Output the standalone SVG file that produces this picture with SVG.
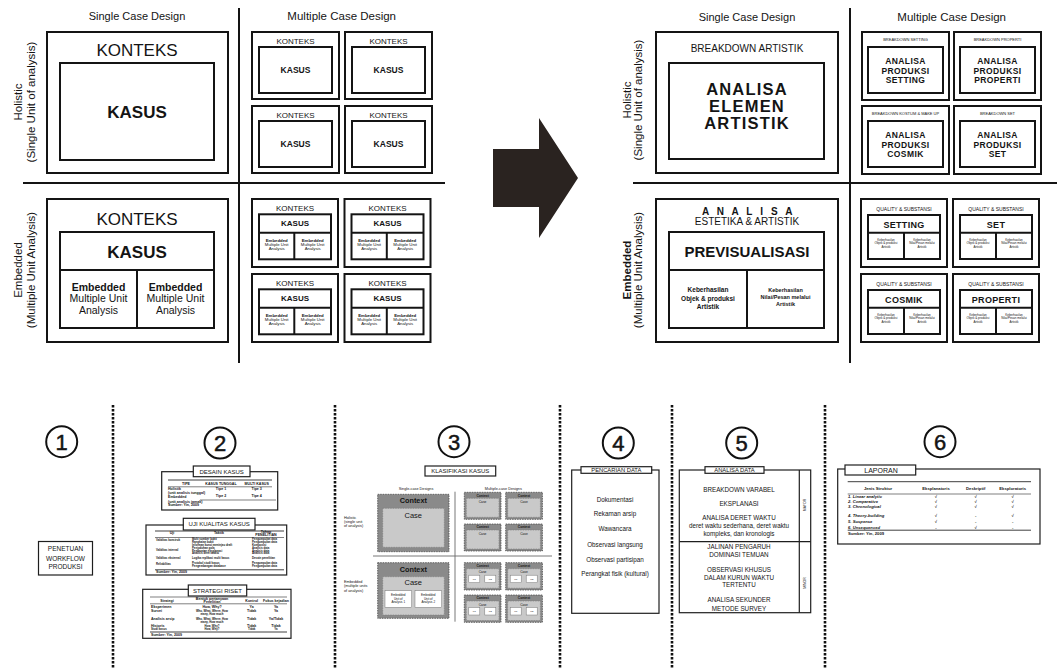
<svg xmlns="http://www.w3.org/2000/svg" width="1057" height="668" viewBox="0 0 1057 668">
<style>
text{font-family:"Liberation Sans",Arial,Helvetica,sans-serif;fill:#141414;text-anchor:middle}
.st{text-anchor:start}
.b{font-weight:bold}
.frame{fill:#fff;stroke:#141414;stroke-width:2}
.line{fill:none;stroke:#141414;stroke-width:2}
.thin{fill:#fff;stroke:#1e1e1e;stroke-width:1.2}
.rule{fill:none;stroke:#2a2a2a;stroke-width:0.6}
.rule2{fill:none;stroke:#2a2a2a;stroke-width:0.9}
.dots{fill:none;stroke:#111;stroke-width:2.6;stroke-dasharray:2.4 1.6}
.num{fill:#fff;stroke:#111;stroke-width:2}
.digit{font-size:22px;stroke:#141414;stroke-width:0.5}
.ctx{fill:#8a8a8a;stroke:#4a4a4a;stroke-width:0.8;stroke-dasharray:1.5 1}
.case{fill:#c9c9c9;stroke:#7a7a7a;stroke-width:0.6;stroke-dasharray:1.5 1}
.unit{fill:#fff;stroke:#777;stroke-width:0.5}
.grid{stroke:#6a6a6a;stroke-width:0.9}
.tiny{font-size:3.6px;font-weight:bold}
.micro{font-size:2.8px;font-weight:bold}
.tab{font-size:6px}
.tb{font-size:4.2px;font-weight:bold}
.p{font-size:6.3px}
</style>
<defs>
  <!-- holistic case inside a context, small version -->
  <g id="holMulti">
    <rect class="frame" x="0" y="0" width="87" height="67"/>
    <rect class="frame" x="7" y="15" width="73" height="46"/>
    <text x="43.5" y="12" font-size="8">KONTEKS</text>
    <text x="43.5" y="41" font-size="8.5" class="b">KASUS</text>
  </g>
  <!-- embedded case inside a context, small version -->
  <g id="embMulti">
    <rect class="frame" x="0" y="0" width="86" height="68"/>
    <rect class="frame" x="7" y="15.3" width="72" height="45"/>
    <line class="line" x1="7" y1="33.7" x2="79" y2="33.7"/>
    <line class="line" x1="42.3" y1="33.7" x2="42.3" y2="60.3"/>
    <text x="43" y="12.2" font-size="8">KONTEKS</text>
    <text x="43" y="27.3" font-size="8" class="b">KASUS</text>
    <text x="24.7" y="42.5" font-size="4.3" class="b">Embedded</text>
    <text x="24.7" y="46.8" font-size="4.3">Multiple Unit</text>
    <text x="24.7" y="51" font-size="4.3">Analysis</text>
    <text x="60.7" y="42.5" font-size="4.3" class="b">Embedded</text>
    <text x="60.7" y="46.8" font-size="4.3">Multiple Unit</text>
    <text x="60.7" y="51" font-size="4.3">Analysis</text>
  </g>
  <g id="rmFrame">
    <rect class="frame" x="0" y="0" width="87" height="68"/>
    <rect class="frame" x="6" y="15" width="75" height="46"/>
  </g>
  <g id="rmEmbFrame">
    <rect class="frame" x="0" y="0" width="86" height="68"/>
    <rect class="frame" x="7" y="16" width="72" height="44"/>
    <line class="line" x1="7" y1="33.7" x2="79" y2="33.7"/>
    <line class="line" x1="43" y1="33.7" x2="43" y2="60"/>
    <text x="25" y="41.5" font-size="3">Keberhasilan</text>
    <text x="25" y="45" font-size="3">Objek &amp; produksi</text>
    <text x="25" y="48.5" font-size="3">Artistik</text>
    <text x="61" y="41.5" font-size="3">Keberhasilan</text>
    <text x="61" y="45" font-size="3">Nilai/Pesan melalui</text>
    <text x="61" y="48.5" font-size="3">Artistik</text>
  </g>
  <g id="p3hol">
    <rect class="ctx" x="0" y="0" width="36.7" height="27"/>
    <text x="18.3" y="4.4" font-size="3.3" class="b">Context</text>
    <rect class="case" x="2" y="6" width="32.7" height="19"/>
    <text x="18.3" y="11.2" font-size="3.3">Case</text>
  </g>
  <g id="p3emb">
    <rect class="ctx" x="0" y="0" width="36.7" height="27.3"/>
    <text x="18.3" y="4.4" font-size="3.3" class="b">Context</text>
    <rect class="case" x="2" y="6" width="32.7" height="19.5"/>
    <text x="18.3" y="10.6" font-size="3.3">Case</text>
    <rect class="unit" x="4.5" y="12.5" width="11" height="7.5"/>
    <rect class="unit" x="20.5" y="12.5" width="11" height="7.5"/>
    <text x="10" y="17" font-size="2.4">U1</text>
    <text x="26" y="17" font-size="2.4">U2</text>
  </g>
</defs>

<rect width="1057" height="668" fill="#fff"/>

<!-- ===== left matrix: generic case-study designs ===== -->
<g id="left-axes">
  <line class="line" x1="239" y1="8" x2="239" y2="363"/>
  <line class="line" x1="23" y1="183" x2="445" y2="183"/>
  <text x="137" y="20" font-size="11">Single Case Design</text>
  <text x="341.7" y="20" font-size="11.5">Multiple Case Design</text>
  <text transform="translate(22,102) rotate(-90)" font-size="11.5">Holistic</text>
  <text transform="translate(35,102) rotate(-90)" font-size="11.5">(Single Unit of analysis)</text>
  <text transform="translate(22,270) rotate(-90)" font-size="11.5">Embedded</text>
  <text transform="translate(34.5,270) rotate(-90)" font-size="11.5">(Multiple Unit Analysis)</text>
</g>

<g id="single-holistic">
  <rect class="frame" x="47" y="32" width="181" height="141"/>
  <rect class="frame" x="60" y="63" width="154" height="97"/>
  <text x="137" y="56" font-size="17">KONTEKS</text>
  <text x="137" y="118" font-size="17" class="b">KASUS</text>
</g>

<g id="single-embedded">
  <rect class="frame" x="47" y="199" width="181" height="143"/>
  <rect class="frame" x="60" y="232" width="154" height="96"/>
  <line class="line" x1="60" y1="270" x2="214" y2="270"/>
  <line class="line" x1="137" y1="270" x2="137" y2="328"/>
  <text x="137" y="225" font-size="17">KONTEKS</text>
  <text x="137" y="258" font-size="17" class="b">KASUS</text>
  <text x="98.5" y="291" font-size="10.5" class="b">Embedded</text>
  <text x="98.5" y="302" font-size="10.5">Multiple Unit</text>
  <text x="98.5" y="313.5" font-size="10.5">Analysis</text>
  <text x="175.5" y="291" font-size="10.5" class="b">Embedded</text>
  <text x="175.5" y="302" font-size="10.5">Multiple Unit</text>
  <text x="175.5" y="313.5" font-size="10.5">Analysis</text>
</g>

<g id="multi-holistic-1"><use href="#holMulti" x="252" y="32"/></g>
<g id="multi-holistic-2"><use href="#holMulti" x="345" y="32"/></g>
<g id="multi-holistic-3"><use href="#holMulti" x="252" y="106"/></g>
<g id="multi-holistic-4"><use href="#holMulti" x="345" y="106"/></g>

<g id="multi-embedded-1"><use href="#embMulti" x="252" y="199"/></g>
<g id="multi-embedded-2"><use href="#embMulti" x="344.5" y="199"/></g>
<g id="multi-embedded-3"><use href="#embMulti" x="252" y="274"/></g>
<g id="multi-embedded-4"><use href="#embMulti" x="344.5" y="274"/></g>

<!-- big transition arrow -->
<g id="connectors">
  <path d="M493,149 L539,149 L539,118 L578,178 L539,238 L539,207 L493,207 Z" fill="#2a2320"/>
</g>

<!-- ===== right matrix: artistic analysis ===== -->
<g id="right-axes">
  <line class="line" x1="850" y1="8" x2="850" y2="363"/>
  <line class="line" x1="633" y1="183" x2="1057" y2="183"/>
  <text x="747" y="20.5" font-size="11">Single Case Design</text>
  <text x="951.7" y="20.5" font-size="11.5">Multiple Case Design</text>
  <text transform="translate(631,100) rotate(-90)" font-size="11.5">Holistic</text>
  <text transform="translate(642,100) rotate(-90)" font-size="11.5">(Single Unit of analysis)</text>
  <text transform="translate(630.5,270) rotate(-90)" font-size="11.5" class="b">Embedded</text>
  <text transform="translate(641.5,270) rotate(-90)" font-size="11.5">(Multiple Unit Analysis)</text>
</g>

<g id="artistic-holistic">
  <rect class="frame" x="656" y="32" width="182" height="141"/>
  <rect class="frame" x="669" y="63" width="155" height="96"/>
  <text x="747" y="52" font-size="10">BREAKDOWN ARTISTIK</text>
  <text x="747" y="95" font-size="16.5" class="b" letter-spacing="1.2">ANALISA</text>
  <text x="747" y="112" font-size="16.5" class="b" letter-spacing="1.2">ELEMEN</text>
  <text x="747" y="129" font-size="16.5" class="b" letter-spacing="1.2">ARTISTIK</text>
</g>

<g id="artistic-embedded">
  <rect class="frame" x="656" y="199" width="182" height="143"/>
  <rect class="frame" x="669" y="232" width="155" height="96"/>
  <line class="line" x1="669" y1="270" x2="824" y2="270"/>
  <line class="line" x1="747" y1="270" x2="747" y2="328"/>
  <text x="748.5" y="215.2" font-size="10" class="b" letter-spacing="2.6">A N A L I S A</text>
  <text x="747" y="225.2" font-size="10">ESTETIKA &amp; ARTISTIK</text>
  <text x="747" y="257" font-size="15" class="b">PREVISUALISASI</text>
  <text x="708" y="291.5" font-size="6.5" class="b">Keberhasilan</text>
  <text x="708" y="300.5" font-size="6.5" class="b">Objek &amp; produksi</text>
  <text x="708" y="308.5" font-size="6.5" class="b">Artistik</text>
  <text x="785.5" y="292" font-size="5.5" class="b">Keberhasilan</text>
  <text x="785.5" y="299.3" font-size="5.5" class="b">Nilai/Pesan melalui</text>
  <text x="785.5" y="306" font-size="5.5" class="b">Artistik</text>
</g>

<g id="breakdown-setting">
  <use href="#rmFrame" x="862" y="32"/>
  <text x="905.5" y="41" font-size="4">BREAKDOWN SETTING</text>
  <text x="905.5" y="64" font-size="8.5" class="b" letter-spacing="0.4">ANALISA</text>
  <text x="905.5" y="74" font-size="8.5" class="b" letter-spacing="0.4">PRODUKSI</text>
  <text x="905.5" y="83.3" font-size="8.5" class="b" letter-spacing="0.4">SETTING</text>
</g>
<g id="breakdown-properti">
  <use href="#rmFrame" x="954" y="32"/>
  <text x="997.5" y="41" font-size="4">BREAKDOWN PROPERTI</text>
  <text x="997.5" y="64" font-size="8.5" class="b" letter-spacing="0.4">ANALISA</text>
  <text x="997.5" y="74" font-size="8.5" class="b" letter-spacing="0.4">PRODUKSI</text>
  <text x="997.5" y="83.3" font-size="8.5" class="b" letter-spacing="0.4">PROPERTI</text>
</g>
<g id="breakdown-kostum">
  <use href="#rmFrame" x="862" y="106"/>
  <text x="905.5" y="115" font-size="4">BREAKDOWN KOSTUM &amp; MAKE UP</text>
  <text x="905.5" y="138" font-size="8.5" class="b" letter-spacing="0.4">ANALISA</text>
  <text x="905.5" y="148" font-size="8.5" class="b" letter-spacing="0.4">PRODUKSI</text>
  <text x="905.5" y="157.3" font-size="8.5" class="b" letter-spacing="0.4">COSMIK</text>
</g>
<g id="breakdown-set">
  <use href="#rmFrame" x="954" y="106"/>
  <text x="997.5" y="115" font-size="4">BREAKDOWN SET</text>
  <text x="997.5" y="138" font-size="8.5" class="b" letter-spacing="0.4">ANALISA</text>
  <text x="997.5" y="148" font-size="8.5" class="b" letter-spacing="0.4">PRODUKSI</text>
  <text x="997.5" y="157.3" font-size="8.5" class="b" letter-spacing="0.4">SET</text>
</g>

<g id="quality-setting">
  <use href="#rmEmbFrame" x="861" y="199"/>
  <text x="904" y="210.8" font-size="5">QUALITY &amp; SUBSTANSI</text>
  <text x="904" y="227.5" font-size="9" class="b" letter-spacing="0.3">SETTING</text>
</g>
<g id="quality-set">
  <use href="#rmEmbFrame" x="953" y="199"/>
  <text x="996" y="210.8" font-size="5">QUALITY &amp; SUBSTANSI</text>
  <text x="996" y="227.5" font-size="9" class="b" letter-spacing="0.3">SET</text>
</g>
<g id="quality-cosmik">
  <use href="#rmEmbFrame" x="861" y="274"/>
  <text x="904" y="285.8" font-size="5">QUALITY &amp; SUBSTANSI</text>
  <text x="904" y="302.5" font-size="9" class="b" letter-spacing="0.3">COSMIK</text>
</g>
<g id="quality-properti">
  <use href="#rmEmbFrame" x="953" y="274"/>
  <text x="996" y="285.8" font-size="5">QUALITY &amp; SUBSTANSI</text>
  <text x="996" y="302.5" font-size="9" class="b" letter-spacing="0.3">PROPERTI</text>
</g>

<!-- ===== lower strip: six research stages ===== -->
<g id="stage-separators">
  <line class="dots" x1="113" y1="405" x2="113" y2="668"/>
  <line class="dots" x1="335" y1="405" x2="335" y2="668"/>
  <line class="dots" x1="560" y1="405" x2="560" y2="668"/>
  <line class="dots" x1="672" y1="405" x2="672" y2="668"/>
  <line class="dots" x1="825" y1="405" x2="825" y2="668"/>
</g>

<g id="stage-numbers">
  <circle class="num" cx="61.7" cy="441.7" r="15.5"/>
  <text class="digit" x="61.7" y="449.7">1</text>
  <circle class="num" cx="220" cy="443" r="15.5"/>
  <text class="digit" x="220" y="451">2</text>
  <circle class="num" cx="454" cy="441.7" r="15.5"/>
  <text class="digit" x="454" y="449.7">3</text>
  <circle class="num" cx="618.3" cy="443" r="15.5"/>
  <text class="digit" x="618.3" y="451">4</text>
  <circle class="num" cx="741.7" cy="443" r="15.5"/>
  <text class="digit" x="741.7" y="451">5</text>
  <circle class="num" cx="940" cy="441.7" r="15.5"/>
  <text class="digit" x="940" y="449.7">6</text>
</g>

<!-- stage 1 -->
<g id="workflow">
  <rect class="thin" x="38.5" y="541.5" width="54" height="33.5"/>
  <text x="65.5" y="550.6" font-size="6.5">PENETUAN</text>
  <text x="65.5" y="560.6" font-size="6.5">WORKFLOW</text>
  <text x="65.5" y="568.5" font-size="6.5">PRODUKSI</text>
</g>

<!-- stage 2: three reference tables -->
<g id="desain-kasus">
  <rect class="thin" x="161.7" y="471.7" width="116" height="38.3"/>
  <rect class="thin" x="193.3" y="466" width="56.7" height="10.7"/>
  <text class="tab" x="221.7" y="473.6">DESAIN KASUS</text>
  <line class="rule2" x1="168" y1="480" x2="272" y2="480"/>
  <text class="tiny" x="186" y="484.5">TIPE</text>
  <text class="tiny" x="221" y="484.5">KASUS TUNGGAL</text>
  <text class="tiny" x="256.7" y="484.5">MULTI KASUS</text>
  <line class="rule" x1="168" y1="486.8" x2="272" y2="486.8"/>
  <text class="tiny st" x="168" y="490.3">Holistik</text>
  <text class="tiny st" x="168" y="494">(unit analisis tunggal)</text>
  <text class="tiny" x="221" y="490.3">Tipe 1</text>
  <text class="tiny" x="256.7" y="490.3">Tipe 3</text>
  <text class="tiny st" x="168" y="497.5">Embedded</text>
  <text class="tiny" x="221" y="497">Tipe 2</text>
  <text class="tiny" x="256.7" y="497">Tipe 4</text>
  <text class="tiny st" x="168" y="502.5">(unit analisis jamak)</text>
  <line class="rule" x1="200" y1="500" x2="276" y2="500"/>
  <text class="tiny st" x="168" y="506">Sumber: Yin, 2009</text>
</g>

<g id="uji-kualitas">
  <rect class="thin" x="146" y="525" width="140.7" height="50"/>
  <rect class="thin" x="183.3" y="518.3" width="71.7" height="11.7"/>
  <text class="tab" x="219.2" y="526.3">UJI KUALITAS KASUS</text>
  <line class="rule2" x1="155" y1="531" x2="284" y2="531"/>
  <text class="tiny" x="172" y="534">Uji</text>
  <text class="tiny" x="219" y="534">Taktik</text>
  <text class="tiny" x="266" y="533">Tahap</text>
  <text class="tiny" x="266" y="536.3">PENELITIAN</text>
  <line class="rule" x1="155" y1="537.5" x2="284" y2="537.5"/>
  <text class="micro st" x="156" y="540.5">Validitas konstruk</text>
  <text class="micro st" x="192" y="540.3">Multi sumber bukti</text>
  <text class="micro st" x="192" y="543">Rangkaian bukti</text>
  <text class="micro st" x="192" y="545.7">Informan kunci meninjau draft</text>
  <text class="micro st" x="252" y="540.3">Pengumpulan data</text>
  <text class="micro st" x="252" y="543">Pengumpulan data</text>
  <text class="micro st" x="252" y="545.7">Komposisi</text>
  <text class="micro st" x="156" y="550.5">Validitas internal</text>
  <text class="micro st" x="192" y="549">Penjodohan pola</text>
  <text class="micro st" x="192" y="551.7">Pembuatan eksplanasi</text>
  <text class="micro st" x="192" y="554.4">Analisis deret waktu</text>
  <text class="micro st" x="252" y="549">Analisis data</text>
  <text class="micro st" x="252" y="551.7">Analisis data</text>
  <text class="micro st" x="252" y="554.4">Analisis data</text>
  <text class="micro st" x="156" y="559">Validitas eksternal</text>
  <text class="micro st" x="192" y="559">Logika replikasi multi kasus</text>
  <text class="micro st" x="252" y="559">Desain penelitian</text>
  <text class="micro st" x="156" y="564.5">Reliabilitas</text>
  <text class="micro st" x="192" y="564.3">Protokol studi kasus</text>
  <text class="micro st" x="192" y="567">Pengembangan database</text>
  <text class="micro st" x="252" y="564.3">Pengumpulan data</text>
  <text class="micro st" x="252" y="567">Pengumpulan data</text>
  <line class="rule2" x1="155" y1="569.8" x2="284" y2="569.8"/>
  <text class="tiny st" x="156" y="573.2">Sumber: Yin, 2009</text>
</g>

<g id="strategi-riset">
  <rect class="thin" x="142.7" y="589.3" width="148.3" height="49"/>
  <rect class="thin" x="188.3" y="585" width="58.4" height="11"/>
  <text class="tab" x="217.5" y="592.8">STRATEGI RISET</text>
  <line class="rule" x1="150" y1="597" x2="287" y2="597" stroke="#999"/>
  <text class="tiny" x="167" y="601.5">Strategi</text>
  <text class="tiny" x="212" y="599.5">Bentuk pertanyaan</text>
  <text class="tiny" x="212" y="602.5">Penelitian</text>
  <text class="tiny" x="251.7" y="601.5">Kontrol</text>
  <text class="tiny" x="276" y="601.5">Fokus kejadian</text>
  <line class="rule" x1="150" y1="603.8" x2="287" y2="603.8"/>
  <text class="tiny st" x="151" y="608">Eksperimen</text>
  <text class="tiny" x="212" y="608">How, Why?</text>
  <text class="tiny" x="251.7" y="608">Ya</text>
  <text class="tiny" x="276" y="608">Ya</text>
  <text class="tiny st" x="151" y="612">Survei</text>
  <text class="micro" x="212" y="612">Who, What, Where, How</text>
  <text class="micro" x="212" y="615">many, How much</text>
  <text class="tiny" x="251.7" y="612">Tidak</text>
  <text class="tiny" x="276" y="612">Ya</text>
  <text class="tiny st" x="151" y="619.5">Analisis arsip</text>
  <text class="micro" x="212" y="619.5">Who, What, Where, How</text>
  <text class="micro" x="212" y="622.5">many, How much</text>
  <text class="tiny" x="251.7" y="619.5">Tidak</text>
  <text class="tiny" x="276" y="619.5">Ya/Tidak</text>
  <text class="tiny st" x="151" y="627">Historis</text>
  <text class="micro" x="212" y="627">How, Why?</text>
  <text class="tiny" x="251.7" y="627">Tidak</text>
  <text class="tiny" x="276" y="627">Tidak</text>
  <text class="micro st" x="151" y="630.3">Studi kasus</text>
  <text class="micro" x="212" y="630.3">How, Why?</text>
  <text class="micro" x="251.7" y="630.3">Tidak</text>
  <text class="micro" x="276" y="630.3">Ya</text>
  <line class="rule2" x1="150" y1="632" x2="287" y2="632"/>
  <text class="tiny st" x="151" y="635.5">Sumber: Yin, 2009</text>
</g>

<!-- stage 3: case classification matrix -->
<g id="klasifikasi-kasus">
  <rect class="thin" x="425" y="466" width="70.7" height="10"/>
  <text x="460.3" y="473.2" font-size="6">KLASIFIKASI  KASUS</text>
  <text x="416" y="489.6" font-size="3.8">Single-case Designs</text>
  <text x="503.3" y="489.6" font-size="3.8">Multiple-case Designs</text>
  <line class="grid" x1="455" y1="491.7" x2="455" y2="621.7"/>
  <line class="grid" x1="373" y1="556" x2="552" y2="556"/>
  <text class="st" x="344" y="518.5" font-size="3.8">Holistic</text>
  <text class="st" x="344" y="522.9" font-size="3.8">(single unit</text>
  <text class="st" x="344" y="527.2" font-size="3.8">of analysis)</text>
  <text class="st" x="344" y="583" font-size="3.8">Embedded</text>
  <text class="st" x="344" y="587.3" font-size="3.8">(multiple units</text>
  <text class="st" x="344" y="591.8" font-size="3.8">of analysis)</text>
</g>

<g id="p3-single-holistic">
  <rect class="ctx" x="377.7" y="494.3" width="71.3" height="57.4"/>
  <text x="413.3" y="502.7" font-size="7.3" class="b">Context</text>
  <rect class="case" x="382.7" y="508.3" width="61.6" height="39"/>
  <text x="413.3" y="517.8" font-size="7.5">Case</text>
</g>
<g id="p3-single-embedded">
  <rect class="ctx" x="377.7" y="562.7" width="71.3" height="55.6"/>
  <text x="413.3" y="571.8" font-size="7.3" class="b">Context</text>
  <rect class="case" x="382.7" y="576.7" width="61.6" height="38.3"/>
  <text x="413.3" y="585.4" font-size="7.5">Case</text>
  <rect class="unit" x="385" y="590.7" width="26.7" height="16.6"/>
  <rect class="unit" x="415" y="590.7" width="26.7" height="16.6"/>
  <text x="398.3" y="596" font-size="3">Embedded</text>
  <text x="398.3" y="599.5" font-size="3">Unit of</text>
  <text x="398.3" y="603" font-size="3">Analysis 1</text>
  <text x="428.3" y="596" font-size="3">Embedded</text>
  <text x="428.3" y="599.5" font-size="3">Unit of</text>
  <text x="428.3" y="603" font-size="3">Analysis 2</text>
</g>
<g id="p3-multi-holistic-1"><use href="#p3hol" x="464.3" y="492.3"/></g>
<g id="p3-multi-holistic-2"><use href="#p3hol" x="505.7" y="492.3"/></g>
<g id="p3-multi-holistic-3"><use href="#p3hol" x="464.3" y="524"/></g>
<g id="p3-multi-holistic-4"><use href="#p3hol" x="505.7" y="524"/></g>
<g id="p3-multi-embedded-1"><use href="#p3emb" x="464.3" y="562.7"/></g>
<g id="p3-multi-embedded-2"><use href="#p3emb" x="505.7" y="562.7"/></g>
<g id="p3-multi-embedded-3"><use href="#p3emb" x="464.3" y="595"/></g>
<g id="p3-multi-embedded-4"><use href="#p3emb" x="505.7" y="595"/></g>

<!-- stage 4 -->
<g id="pencarian-data">
  <rect class="thin" x="571.7" y="470" width="87.3" height="143.3"/>
  <rect class="thin" x="581" y="466.7" width="70.7" height="6.6"/>
  <text x="616.3" y="472.3" font-size="5.8">PENCARIAN DATA</text>
  <text class="p" x="615" y="501.5">Dokumentasi</text>
  <text class="p" x="615" y="516.2">Rekaman arsip</text>
  <text class="p" x="615" y="530.5">Wawancara</text>
  <text class="p" x="615" y="547.2">Observasi langsung</text>
  <text class="p" x="615" y="562.2">Observasi partisipan</text>
  <text class="p" x="615" y="576.2">Perangkat fisik (kultural)</text>
</g>

<!-- stage 5 -->
<g id="analisa-data">
  <rect class="thin" x="679.3" y="470" width="131.4" height="142.7"/>
  <line x1="799.3" y1="470" x2="799.3" y2="612.7" stroke="#1e1e1e" stroke-width="1.2"/>
  <line x1="679.3" y1="541.7" x2="810.7" y2="541.7" stroke="#1e1e1e" stroke-width="1.2"/>
  <rect class="thin" x="705" y="466.7" width="59" height="6.6"/>
  <text x="734.5" y="472.3" font-size="5.8">ANALISA DATA</text>
  <text class="p" x="739" y="491.5">BREAKDOWN VARABEL</text>
  <text class="p" x="739" y="505.5">EKSPLANASI</text>
  <text class="p" x="739" y="520">ANALISA DERET WAKTU</text>
  <text class="p" x="739" y="528.2">deret waktu sederhana, deret waktu</text>
  <text class="p" x="739" y="535.5">kompleks, dan kronologis</text>
  <text class="p" x="739" y="549">JALINAN PENGARUH</text>
  <text class="p" x="739" y="557.2">DOMINASI TEMUAN</text>
  <text class="p" x="739" y="572.2">OBSERVASI KHUSUS</text>
  <text class="p" x="739" y="580">DALAM KURUN WAKTU</text>
  <text class="p" x="739" y="587.2">TERTENTU</text>
  <text class="p" x="739" y="602.2">ANALISA SEKUNDER</text>
  <text class="p" x="739" y="610.5">METODE SURVEY</text>
  <text transform="translate(806.2,505) rotate(-90)" font-size="3.5">MAYOR</text>
  <text transform="translate(806.2,583) rotate(-90)" font-size="3.5">MINOR</text>
</g>

<!-- stage 6 -->
<g id="laporan">
  <rect class="thin" x="837.7" y="469" width="202.3" height="75"/>
  <rect class="thin" x="845" y="465" width="70.7" height="10"/>
  <text class="st" x="864.3" y="472.6" font-size="7">LAPORAN</text>
  <line class="rule2" x1="847.7" y1="481.7" x2="1031" y2="481.7"/>
  <text class="tb" x="878" y="490">Jenis Struktur</text>
  <text class="tb" x="936" y="490">Eksplanatoris</text>
  <text class="tb" x="975.7" y="490">Deskriptif</text>
  <text class="tb" x="1012.7" y="490">Eksploratoris</text>
  <line class="rule" x1="847.7" y1="494" x2="1031" y2="494"/>
  <g font-style="italic">
    <text class="tb st" x="848" y="498.3">1. Linear analytic</text>
    <text class="tb st" x="848" y="502.8">2. Comparative</text>
    <text class="tb st" x="848" y="507.6">3. Chronological</text>
    <text class="tb st" x="848" y="516.5">4. Theory-building</text>
    <text class="tb st" x="848" y="523.2">5. Suspense</text>
    <text class="tb st" x="848" y="528.8">6. Unsequenced</text>
  </g>
  <text class="tb" x="936" y="498.3">√</text><text class="tb" x="975.7" y="498.3">√</text><text class="tb" x="1012.7" y="498.3">√</text>
  <text class="tb" x="936" y="502.8">√</text><text class="tb" x="975.7" y="502.8">√</text><text class="tb" x="1012.7" y="502.8">√</text>
  <text class="tb" x="936" y="507.6">√</text><text class="tb" x="975.7" y="507.6">√</text><text class="tb" x="1012.7" y="507.6">√</text>
  <text class="tb" x="936" y="516.5">√</text><text class="tb" x="975.7" y="516.5">-</text><text class="tb" x="1012.7" y="516.5">√</text>
  <text class="tb" x="936" y="523.2">√</text><text class="tb" x="975.7" y="523.2">-</text><text class="tb" x="1012.7" y="523.2">-</text>
  <text class="tb" x="936" y="528.8">-</text><text class="tb" x="975.7" y="528.8">√</text><text class="tb" x="1012.7" y="528.8">-</text>
  <line class="rule2" x1="847.7" y1="530.2" x2="1031" y2="530.2"/>
  <text class="tb st" x="848" y="535">Sumber: Yin, 2009</text>
</g>
</svg>
